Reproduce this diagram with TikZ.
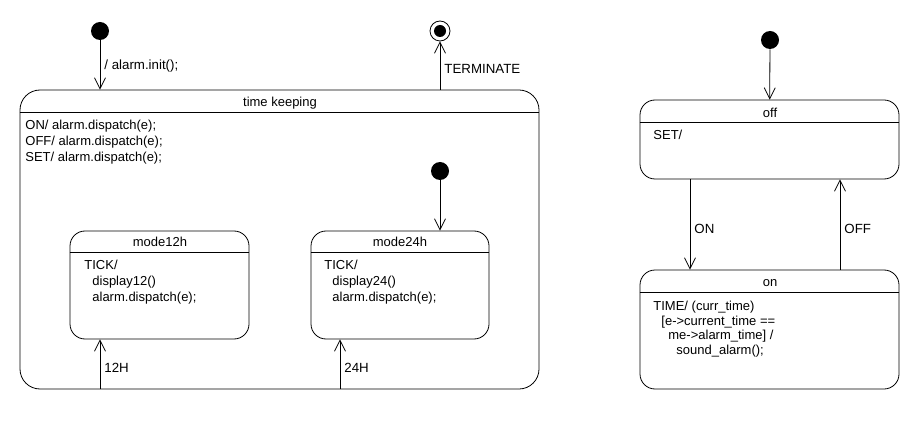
\documentclass[tikz,border=0pt]{standalone}
\usepackage{fontspec}
\setmainfont{Liberation Sans}
\usetikzlibrary{arrows.meta}

\tikzset{
	statebox/.style={draw, rectangle, rounded corners=15pt, inner sep=0pt, line width=0.8pt},
	initdot/.style={circle, fill, inner sep=0pt, minimum size=18pt},
	finaldot/.style={circle, draw, line width=0.8pt, inner sep=0pt, minimum size=20pt,
		path picture={\fill (path picture bounding box.center) circle (6pt);}},
	boxtext/.style={anchor=north west, inner sep=0pt, align=left, font=\fontsize{13}{16}\selectfont},
	boxtitle/.style={anchor=base, inner sep=0pt, font=\fontsize{13}{16}\selectfont},
	trans/.style={font=\fontsize{13.3}{16}\selectfont, inner sep=4pt},
}

\begin{document}
\begin{tikzpicture}[x=1pt, y=-1pt, line width=0.8pt, >={Straight Barb[length=11pt,width=11pt]}]
	\useasboundingbox (0,0) rectangle (920,430);

	% time keeping
	\node[statebox, rounded corners=20pt, minimum width=519pt, minimum height=299pt] (tk) at (279.5,239.5) {};
	\draw ([yshift=-23pt]tk.north west) -- ([yshift=-23pt]tk.north east);
	\node[boxtitle] (tkname) at (280,106.5) {time keeping};
	\node[boxtext] (tkact) at (25,120) {ON/ alarm.dispatch(e);\\OFF/ alarm.dispatch(e);\\SET/ alarm.dispatch(e);};

	\node[statebox, minimum width=179pt, minimum height=108pt] (m12) at (159.5,285) {};
	\draw ([yshift=-22pt]m12.north west) -- ([yshift=-22pt]m12.north east);
	\node[boxtitle] (m12name) at (160,246.5) {mode12h};
	\node[boxtext] (m12act) at (84,260) {TICK/\\\hspace*{8pt}display12()\\\hspace*{8pt}alarm.dispatch(e);};

	\node[statebox, minimum width=178pt, minimum height=108pt] (m24) at (400,285) {};
	\draw ([yshift=-22pt]m24.north west) -- ([yshift=-22pt]m24.north east);
	\node[boxtitle] (m24name) at (400,246.5) {mode24h};
	\node[boxtext] (m24act) at (324,260) {TICK/\\\hspace*{8pt}display24()\\\hspace*{8pt}alarm.dispatch(e);};

	\node[initdot] (i0) at (100,31) {};
	\node[finaldot] (fin) at (440,31) {};
	\node[initdot] (i1) at (440,171) {};
	\coordinate (h12) at (100,389);
	\coordinate (h24) at (340,389);

	\draw [arrows=->] (i0) -- (i0 |- tk.north) node [midway,right,trans,yshift=-1pt] {/ alarm.init();};
	\draw [arrows=->] (fin |- tk.north) -- (fin) node [midway,right,trans,yshift=-3pt] {TERMINATE};
	\draw [arrows=->] (i1) -- (i1 |- m24.north);
	\draw [arrows=->] (h12) -- (h12 |- m12.south) node [midway,right,trans,yshift=-4pt] {12H};
	\draw [arrows=->] (h24) -- (h24 |- m24.south) node [midway,right,trans,yshift=-4pt] {24H};

	% alarm
	\node[initdot] (i2) at (770,40) {};
	\node[statebox, minimum width=259pt, minimum height=79pt] (off) at (769.5,139.5) {};
	\draw ([yshift=-23pt]off.north west) -- ([yshift=-23pt]off.north east);
	\node[boxtitle] (offname) at (770,117.5) {off};
	\node[boxtext] (offact) at (653,130) {SET/};

	\node[statebox, minimum width=259pt, minimum height=119pt] (on) at (769.5,329.5) {};
	\draw ([yshift=-23pt]on.north west) -- ([yshift=-23pt]on.north east);
	\node[boxtitle] (onname) at (770,286.5) {on};
	\node[boxtext, font=\fontsize{13}{14.5}\selectfont] (onact) at (653,301) {TIME/ (curr\_time)\\\hspace*{8pt}[e->current\_time ==\\\hspace*{15pt}me->alarm\_time] /\\\hspace*{23pt}sound\_alarm();};

	\draw [arrows=->] (i2) -- (off);
	\draw [arrows=->] ([xshift=-79.5pt]off.south) -- ([xshift=-79.5pt]on.north) node [midway,right,trans,yshift=-4pt] {ON};
	\draw [arrows=->] ([xshift=70.5pt]on.north) -- ([xshift=70.5pt]off.south) node [midway,right,trans,yshift=-4pt] {OFF};
\end{tikzpicture}
\end{document}
